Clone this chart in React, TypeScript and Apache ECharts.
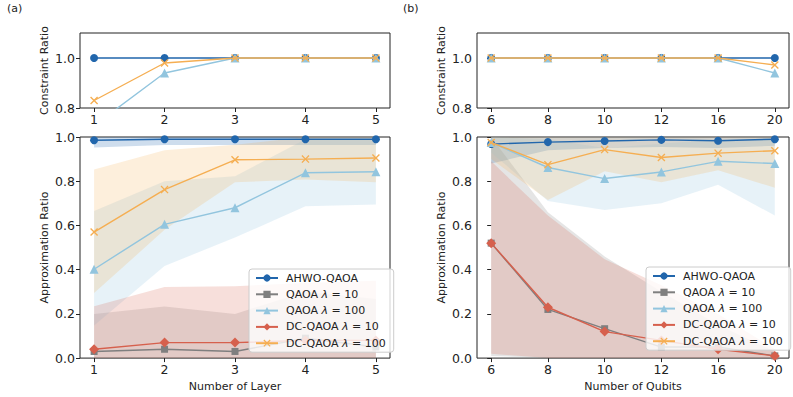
import React, { useEffect, useRef } from "react";
import * as echarts from "echarts";

// ---------- data ----------
const layers = [1, 2, 3, 4, 5];
const qubitLabels = [6, 8, 10, 12, 16, 20];
const qubitIdx = [0, 1, 2, 3, 4, 5];
const crTicks = [0.8, 1.0];

const N_AHWO = "AHWO-QAOA";
const N_Q10 = "QAOA λ = 10";
const N_Q100 = "QAOA λ = 100";
const N_DC10 = "DC-QAOA λ = 10";
const N_DC100 = "DC-QAOA λ = 100";

// (a) constraint ratio
const crA_AHWO = [1, 1, 1, 1, 1];
const crA_Q100 = [0.73, 0.94, 1, 1, 1];
const crA_DC100 = [0.83, 0.98, 1, 1, 1];
// (b) constraint ratio
const crB_AHWO = [1, 1, 1, 1, 1, 1];
const crB_Q100 = [1, 1, 1, 1, 1, 0.94];
const crB_DC100 = [1, 1, 1, 1, 1, 0.972];

// (a) approximation ratio: mean, low, high
const arA_AHWO = [0.985, 0.99, 0.99, 0.99, 0.99];
const arA_AHWO_lo = [0.953, 0.964, 0.964, 0.964, 0.964];
const arA_AHWO_hi = [1, 1, 1, 1, 1];
const arA_Q10 = [0.03, 0.04, 0.03, 0.09, 0.05];
const arA_Q10_lo = [0, 0, 0, 0, 0];
const arA_Q10_hi = [0.2, 0.233, 0.2, 0.3, 0.267];
const arA_Q100 = [0.402, 0.605, 0.68, 0.838, 0.843];
const arA_Q100_lo = [0.147, 0.417, 0.545, 0.687, 0.695];
const arA_Q100_hi = [0.665, 0.8, 0.823, 0.99, 0.99];
const arA_DC10 = [0.04, 0.07, 0.07, 0.08, 0.08];
const arA_DC10_lo = [0, 0, 0, 0, 0];
const arA_DC10_hi = [0.234, 0.322, 0.325, 0.34, 0.35];
const arA_DC100 = [0.57, 0.762, 0.897, 0.9, 0.905];
const arA_DC100_lo = [0.294, 0.58, 0.795, 0.808, 0.795];
const arA_DC100_hi = [0.853, 0.94, 0.965, 1, 1];

// (b) approximation ratio
const arB_AHWO = [0.968, 0.977, 0.982, 0.987, 0.983, 0.99];
const arB_AHWO_lo = [0.88, 0.94, 0.95, 0.955, 0.95, 0.96];
const arB_AHWO_hi = [1, 1, 1, 1, 1, 1];
const arB_Q10 = [0.52, 0.22, 0.133, 0.05, 0.05, 0.01];
const arB_Q10_lo = [0.01, 0, 0, 0, 0, 0];
const arB_Q10_hi = [1, 0.66, 0.46, 0.3, 0.15, 0.03];
const arB_Q100 = [0.975, 0.862, 0.812, 0.842, 0.89, 0.88];
const arB_Q100_lo = [0.93, 0.71, 0.67, 0.7, 0.784, 0.645];
const arB_Q100_hi = [1, 0.99, 0.95, 0.97, 0.99, 0.99];
const arB_DC10 = [0.52, 0.23, 0.12, 0.08, 0.04, 0.01];
const arB_DC10_lo = [0.02, 0, 0, 0, 0, 0];
const arB_DC10_hi = [0.89, 0.645, 0.447, 0.33, 0.2, 0.04];
const arB_DC100 = [0.975, 0.875, 0.943, 0.907, 0.927, 0.938];
const arB_DC100_lo = [0.9, 0.715, 0.845, 0.795, 0.85, 0.77];
const arB_DC100_hi = [1, 1, 1, 1, 1, 1];

// ---------- styles ----------
const C_AHWO = "#2166ac";
const C_Q10 = "#7f7f7f";
const C_Q100 = "#92c5de";
const C_DC10 = "#d6604d";
const C_DC100 = "#f5ae52";
const FONT = "DejaVu Sans";
const INK = "#222";
const TICK_FS = 12.5;
const X_PATH =
  "path://M0,1.2 L1.2,0 L5,3.8 L8.8,0 L10,1.2 L6.2,5 L10,8.8 L8.8,10 L5,6.2 L1.2,10 L0,8.8 L3.8,5 Z";

const STYLE: Record<string, { color: string; symbol: string; size: number }> = {
  [N_AHWO]: { color: C_AHWO, symbol: "circle", size: 8 },
  [N_Q10]: { color: C_Q10, symbol: "rect", size: 7 },
  [N_Q100]: { color: C_Q100, symbol: "triangle", size: 9 },
  [N_DC10]: { color: C_DC10, symbol: "diamond", size: 10 },
  [N_DC100]: { color: C_DC100, symbol: X_PATH, size: 8 },
};

function hexA(hex: string, a: number) {
  const r = parseInt(hex.slice(1, 3), 16);
  const g = parseInt(hex.slice(3, 5), 16);
  const b = parseInt(hex.slice(5, 7), 16);
  return `rgba(${r},${g},${b},${a})`;
}

function line(name: string, xs: number[], ys: number[], axis: number, z: number) {
  const s = STYLE[name];
  return {
    type: "line",
    name,
    xAxisIndex: axis,
    yAxisIndex: axis,
    data: xs.map((x, i) => [x, ys[i]]),
    symbol: s.symbol,
    symbolSize: s.size,
    showSymbol: true,
    clip: true,
    z,
    lineStyle: { color: s.color, width: 1.4 },
    itemStyle: { color: s.color },
    emphasis: { disabled: true },
  };
}

function band(name: string, xs: number[], lo: number[], hi: number[], axis: number, alpha: number) {
  const s = STYLE[name];
  return {
    type: "custom",
    xAxisIndex: axis,
    yAxisIndex: axis,
    silent: true,
    z: 1,
    data: xs.map((x, i) => [x, lo[i], hi[i]]),
    encode: { x: 0, y: [1, 2] },
    renderItem: (params: any, api: any) => {
      if (params.dataIndex !== 0) return null;
      const top = xs.map((x, i) => api.coord([x, hi[i]]));
      const bot = xs.map((x, i) => api.coord([x, lo[i]])).reverse();
      return {
        type: "polygon",
        shape: { points: top.concat(bot) },
        style: { fill: hexA(s.color, alpha), stroke: "none" },
      };
    },
  };
}

const grids = [
  { left: 80, top: 33, width: 310, height: 75 },
  { left: 80, top: 137, width: 310, height: 222 },
  { left: 477, top: 33, width: 312, height: 75 },
  { left: 477, top: 137, width: 312, height: 222 },
];

function xAxis(i: number) {
  const isA = i < 2;
  const ticks = isA ? layers : qubitIdx;
  return {
    type: "value",
    gridIndex: i,
    min: isA ? 0.8 : -0.25,
    max: isA ? 5.2 : 5.25,
    name: i === 1 ? "Number of Layer" : i === 3 ? "Number of Qubits" : "",
    nameLocation: "middle",
    nameGap: 22,
    nameTextStyle: { fontFamily: FONT, fontSize: 11, color: INK },
    splitLine: { show: false },
    axisLine: { show: false },
    axisTick: { show: true, customValues: ticks, length: 4, lineStyle: { color: INK } },
    axisLabel: {
      customValues: ticks,
      margin: 5,
      fontFamily: FONT,
      fontSize: TICK_FS,
      color: INK,
      formatter: (v: number) => (isA ? String(Math.round(v)) : String(qubitLabels[Math.round(v)])),
    },
  };
}

function yAxis(i: number) {
  const isTop = i % 2 === 0;
  const base: any = {
    type: "value",
    gridIndex: i,
    min: isTop ? 0.8 : 0,
    max: isTop ? 1.1 : 1.0,
    interval: 0.2,
    name: isTop ? "Constraint Ratio" : "Approximation Ratio",
    nameLocation: "middle",
    nameGap: 30,
    nameRotate: 90,
    nameTextStyle: { fontFamily: FONT, fontSize: 11, color: INK },
    splitLine: { show: false },
    axisLine: { show: false },
    axisTick: { show: true, length: 4, lineStyle: { color: INK } },
    axisLabel: {
      margin: 5,
      fontFamily: FONT,
      fontSize: TICK_FS,
      color: INK,
      formatter: (v: number) => v.toFixed(1),
    },
  };
  if (isTop) {
    base.axisTick.customValues = crTicks;
    base.axisLabel.customValues = crTicks;
  }
  return base;
}

function legend(left: number, top: number) {
  return {
    orient: "vertical",
    left,
    top,
    data: [N_AHWO, N_Q10, N_Q100, N_DC10, N_DC100],
    itemWidth: 22,
    itemHeight: 9,
    itemGap: 2.3,
    padding: [2, 8, 2, 6],
    backgroundColor: "rgba(255,255,255,0.8)",
    borderColor: "#cccccc",
    borderWidth: 1,
    borderRadius: 3,
    selectedMode: false,
    z: 20,
    textStyle: {
      fontFamily: FONT,
      fontSize: 11,
      color: INK,
      lineHeight: 14,
      padding: [0, 0, 0, 3],
      rich: { i: { fontFamily: FONT, fontStyle: "italic", fontSize: 11, color: INK } },
    },
    formatter: (name: string) => name.replace("λ", "{i|λ}"),
  };
}

export default function App() {
  const ref = useRef<HTMLDivElement>(null);
  useEffect(() => {
    if (!ref.current) return;
    const chart = echarts.init(ref.current, undefined, { renderer: "svg" });
    const series: any[] = [
      // (a) top
      line(N_AHWO, layers, crA_AHWO, 0, 3),
      line(N_Q100, layers, crA_Q100, 0, 4),
      line(N_DC100, layers, crA_DC100, 0, 5),
      // (a) bottom bands
      band(N_AHWO, layers, arA_AHWO_lo, arA_AHWO_hi, 1, 0.22),
      band(N_Q10, layers, arA_Q10_lo, arA_Q10_hi, 1, 0.2),
      band(N_Q100, layers, arA_Q100_lo, arA_Q100_hi, 1, 0.22),
      band(N_DC10, layers, arA_DC10_lo, arA_DC10_hi, 1, 0.2),
      band(N_DC100, layers, arA_DC100_lo, arA_DC100_hi, 1, 0.2),
      line(N_AHWO, layers, arA_AHWO, 1, 3),
      line(N_Q10, layers, arA_Q10, 1, 4),
      line(N_Q100, layers, arA_Q100, 1, 5),
      line(N_DC10, layers, arA_DC10, 1, 6),
      line(N_DC100, layers, arA_DC100, 1, 7),
      // (b) top
      line(N_AHWO, qubitIdx, crB_AHWO, 2, 3),
      line(N_Q100, qubitIdx, crB_Q100, 2, 4),
      line(N_DC100, qubitIdx, crB_DC100, 2, 5),
      // (b) bottom bands
      band(N_AHWO, qubitIdx, arB_AHWO_lo, arB_AHWO_hi, 3, 0.22),
      band(N_Q10, qubitIdx, arB_Q10_lo, arB_Q10_hi, 3, 0.2),
      band(N_Q100, qubitIdx, arB_Q100_lo, arB_Q100_hi, 3, 0.22),
      band(N_DC10, qubitIdx, arB_DC10_lo, arB_DC10_hi, 3, 0.2),
      band(N_DC100, qubitIdx, arB_DC100_lo, arB_DC100_hi, 3, 0.2),
      line(N_AHWO, qubitIdx, arB_AHWO, 3, 3),
      line(N_Q10, qubitIdx, arB_Q10, 3, 4),
      line(N_Q100, qubitIdx, arB_Q100, 3, 5),
      line(N_DC10, qubitIdx, arB_DC10, 3, 6),
      line(N_DC100, qubitIdx, arB_DC100, 3, 7),
    ];
    chart.setOption({
      animation: false,
      backgroundColor: "#ffffff",
      textStyle: { fontFamily: FONT },
      grid: grids.map((g) => ({
        ...g,
        show: true,
        borderColor: INK,
        borderWidth: 1,
        backgroundColor: "transparent",
        containLabel: false,
      })),
      xAxis: [0, 1, 2, 3].map(xAxis),
      yAxis: [0, 1, 2, 3].map(yAxis),
      legend: [legend(249, 269), legend(646, 267)],
      graphic: [
        { type: "text", left: 7, top: 3, style: { text: "(a)", fontFamily: FONT, fontSize: 11, fill: INK } },
        { type: "text", left: 403, top: 3, style: { text: "(b)", fontFamily: FONT, fontSize: 11, fill: INK } },
      ],
      series,
    });
    return () => chart.dispose();
  }, []);
  return (
    <div
      ref={ref}
      style={{ position: "fixed", left: 0, top: 0, width: 793, height: 397, background: "#fff" }}
    />
  );
}
